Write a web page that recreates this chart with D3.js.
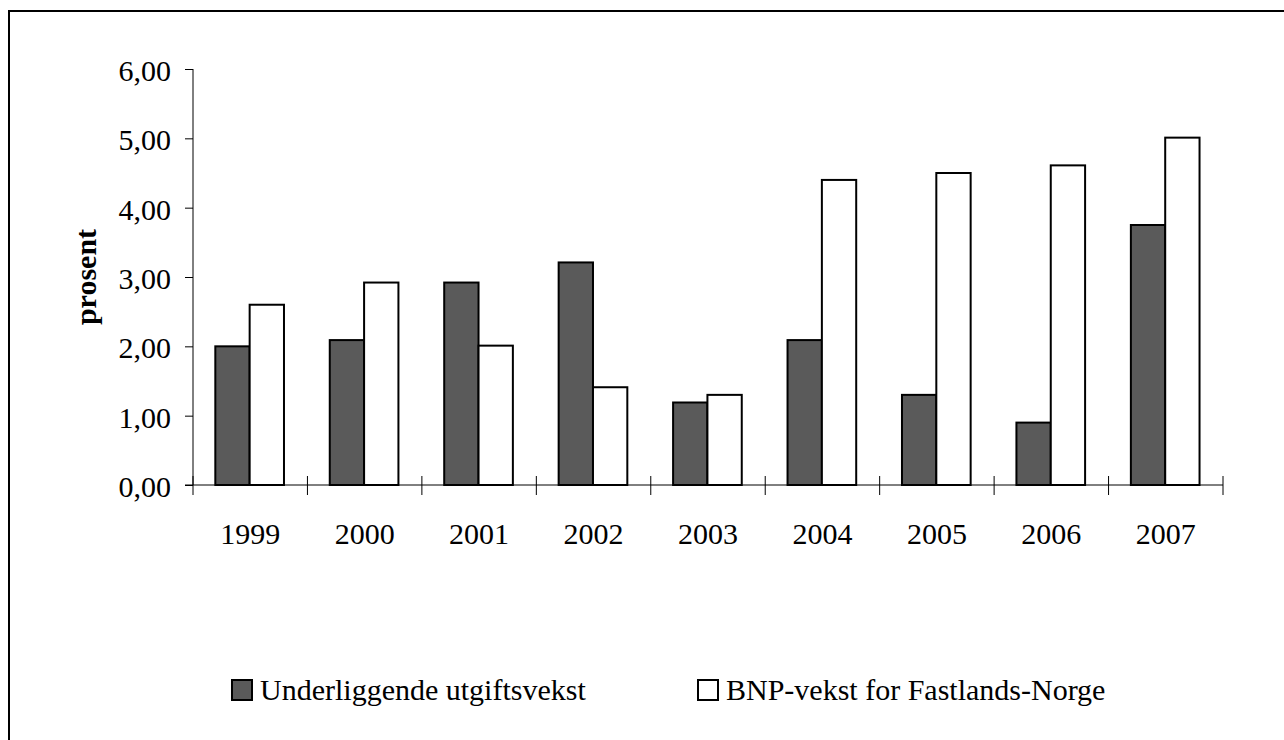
<!DOCTYPE html>
<html>
<head>
<meta charset="utf-8">
<script src="https://cdnjs.cloudflare.com/ajax/libs/d3/7.8.5/d3.min.js"></script>
<style>
	body { margin: 0; background: #fff; }
	svg text { font-family: "Liberation Serif", "Times New Roman", serif; fill: #000; }
</style>
</head>
<body>
<div id="chart"></div>
<script>
'use strict';

var years = ["1999", "2000", "2001", "2002", "2003", "2004", "2005", "2006", "2007"];
var seriesNames = ["Underliggende utgiftsvekst", "BNP-vekst for Fastlands-Norge"];
var utgiftsvekst = [2.00, 2.09, 2.92, 3.21, 1.19, 2.09, 1.30, 0.90, 3.75];
var bnpVekst = [2.60, 2.92, 2.01, 1.41, 1.30, 4.40, 4.50, 4.61, 5.01];
var yTicks = [0, 1, 2, 3, 4, 5, 6];
var seriesColors = ["#5a5a5a", "#ffffff"];

var width = 1284, height = 740;
var margin = {top: 69, left: 193, right: 61, bottom: 255};

var svg = d3.select("#chart")
	.append("svg")
	.attr("width", width)
	.attr("height", height);

// outer frame (right and bottom run off the picture)
svg.append("rect")
	.attr("x", 9)
	.attr("y", 11)
	.attr("width", width + 20)
	.attr("height", height + 20)
	.attr("fill", "none")
	.attr("stroke", "#000")
	.attr("stroke-width", 2);

var x0 = d3.scaleBand()
	.domain(years)
	.range([margin.left, 1223])
	.padding(0);

var x1 = d3.scaleBand()
	.domain(seriesNames)
	.range([x0.bandwidth() * 0.195, x0.bandwidth() * 0.795])
	.padding(0);

var y = d3.scaleLinear()
	.domain([0, 6])
	.range([485, margin.top]);

var no = d3.formatLocale({decimal: ",", thousands: " ", grouping: [3], currency: ["", " kr"]});
var fmt = no.format(".2f");

// y axis
var yAxis = d3.axisLeft(y)
	.tickValues(yTicks)
	.tickSize(8)
	.tickPadding(14)
	.tickFormat(fmt);

var gy = svg.append("g")
	.attr("class", "y axis")
	.attr("transform", "translate(" + margin.left + ",0)")
	.call(yAxis);
gy.select(".domain").remove();
gy.append("line")
	.attr("x1", 0).attr("x2", 0)
	.attr("y1", y(6)).attr("y2", y(0))
	.attr("stroke", "#000");
gy.selectAll(".tick line").attr("stroke", "#000");
gy.selectAll("text")
	.attr("font-size", 30)
	.attr("dy", "0.38em")
	.attr("font-family", "Liberation Serif");

// bars
var data = years.map(function(yr, i) {
	return {year: yr, values: [utgiftsvekst[i], bnpVekst[i]]};
});

var groups = svg.selectAll(".group")
	.data(data)
	.enter().append("g")
	.attr("class", "group")
	.attr("transform", function(d) { return "translate(" + x0(d.year) + ",0)"; });

groups.selectAll("rect")
	.data(function(d) {
		return d.values.map(function(v, k) { return {name: seriesNames[k], value: v, k: k}; });
	})
	.enter().append("rect")
	.attr("x", function(d) { return x1(d.name); })
	.attr("y", function(d) { return y(d.value); })
	.attr("width", x1.bandwidth())
	.attr("height", function(d) { return y(0) - y(d.value); })
	.attr("fill", function(d) { return seriesColors[d.k]; })
	.attr("stroke", "#000")
	.attr("stroke-width", 2);

// x axis: labels centred, ticks at band edges crossing the line
var xAxis = d3.axisBottom(x0)
	.tickSize(0)
	.tickPadding(38);

var gx = svg.append("g")
	.attr("class", "x axis")
	.attr("transform", "translate(0," + y(0) + ")")
	.call(xAxis);
gx.select(".domain").remove();
gx.append("line")
	.attr("x1", margin.left - 8).attr("x2", x0.range()[1])
	.attr("y1", 0).attr("y2", 0)
	.attr("stroke", "#000");
gx.selectAll("text")
	.attr("font-size", 30)
	.attr("font-family", "Liberation Serif");

var edges = years.map(function(yr) { return x0(yr); }).concat([x0.range()[1]]);
gx.selectAll(".edge")
	.data(edges)
	.enter().append("line")
	.attr("class", "edge")
	.attr("x1", function(d) { return d; })
	.attr("x2", function(d) { return d; })
	.attr("y1", -9)
	.attr("y2", 10)
	.attr("stroke", "#000");

// y label
svg.append("text")
	.attr("transform", "rotate(-90)")
	.attr("x", -(y(0) + y(6)) / 2)
	.attr("y", 96)
	.attr("text-anchor", "middle")
	.attr("font-size", 30)
	.attr("font-weight", "bold")
	.text("prosent");

// legend
var legendX = [232, 698];
var legend = svg.selectAll(".legend")
	.data(seriesNames)
	.enter().append("g")
	.attr("class", "legend")
	.attr("transform", function(d, i) { return "translate(" + legendX[i] + ",680)"; });

legend.append("rect")
	.attr("width", 20)
	.attr("height", 20)
	.attr("fill", function(d, i) { return seriesColors[i]; })
	.attr("stroke", "#000")
	.attr("stroke-width", 2);

legend.append("text")
	.attr("x", 28)
	.attr("y", 20)
	.attr("font-size", 30)
	.text(function(d) { return d; });
</script>
</body>
</html>
